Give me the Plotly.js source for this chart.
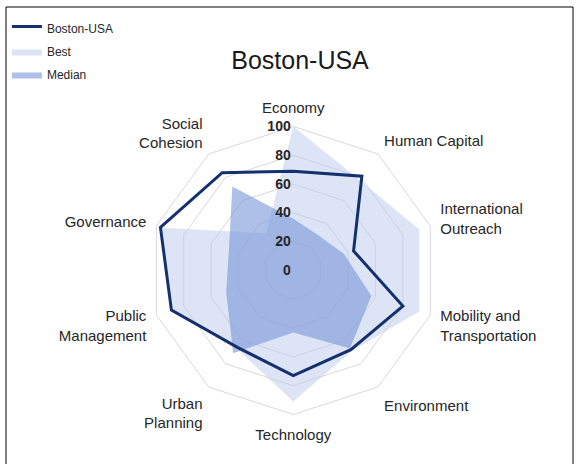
<!DOCTYPE html>
<html>
<head>
<meta charset="utf-8">
<script src="https://cdn.plot.ly/plotly-3.0.1.min.js"></script>
<style>
html,body{margin:0;padding:0;background:#fff;}
#chart{width:576px;height:464px;}
</style>
</head>
<body>
<div id="chart"></div>
<script>
// Categories (clockwise from top)
const categories = ['Economy','Human Capital','International Outreach','Mobility and Transportation','Environment','Technology','Urban Planning','Public Management','Governance','Social Cohesion'];
const axisLabels = ['Economy','Human Capital','International<br>Outreach','Mobility and<br>Transportation','Environment','Technology','Urban<br>Planning','Public<br>Management','Governance','Social<br>Cohesion'];
// Series values
const bostonValues = [69, 81, 44, 80, 68, 73, 66, 89, 97, 84];
const bestValues   = [100, 78, 92, 92, 69, 91, 67, 88, 96, 32];
const medianValues = [36, 30, 37, 57, 67, 43, 71, 49, 47, 72];
// Radial tick labels
const radialTicks = [0, 20, 40, 60, 80, 100];

function closed(arr){ return arr.concat([arr[0]]); }

const FONT = 'Liberation Sans, Arial, sans-serif';

const traces = [
  {
    type:'scatterpolar', name:'Best', legendrank:2, legendgroup:'b',
    r: closed(bestValues), theta: closed(categories),
    mode:'lines', fill:'toself',
    fillcolor:'rgba(185,201,235,0.5)', line:{width:0, color:'rgba(185,201,235,0.5)'},
    hoverinfo:'skip'
  },
  {
    type:'scatterpolar', name:'Median', legendrank:3, legendgroup:'c',
    r: closed(medianValues), theta: closed(categories),
    mode:'lines', fill:'toself',
    fillcolor:'rgba(120,150,215,0.6)', line:{width:0, color:'rgba(120,150,215,0.6)'},
    hoverinfo:'skip'
  },
  {
    type:'scatterpolar', name:'Boston-USA', legendrank:1, legendgroup:'a',
    r: closed(bostonValues), theta: closed(categories),
    mode:'lines', fill:'toself', fillcolor:'rgba(255,255,255,0)',
    line:{width:3, color:'#14306e'},
    hoverinfo:'skip'
  }
];

const R = 144, CX = 293.3, CY = 270.5, W = 576, H = 464;

const layout = {
  width: W, height: H,
  margin:{l:0, r:0, t:0, b:0},
  paper_bgcolor:'#ffffff',
  font:{family:FONT, color:'#262626'},
  title:{text:'Boston-USA', font:{family:FONT, size:25, color:'#1a1a1a'},
         x:300/W, xanchor:'center', y:1-60/H, yanchor:'middle', xref:'paper', yref:'paper'},
  showlegend:true,
  legend:{x:0.012, y:1-14/H, xanchor:'left', yanchor:'top', font:{family:FONT, size:12, color:'#262626'},
          itemwidth:30, tracegroupgap:4, bgcolor:'rgba(0,0,0,0)'},
  polar:{
    domain:{x:[(CX-R)/W, (CX+R)/W], y:[(H-CY-R)/H, (H-CY+R)/H]},
    gridshape:'linear',
    bgcolor:'rgba(0,0,0,0)',
    angularaxis:{
      type:'category', direction:'clockwise', rotation:90,
      tickmode:'array', tickvals:categories, ticktext:axisLabels,
      showgrid:false, showline:true, linecolor:'#d9d9d9', linewidth:1,
      ticks:'outside', ticklen:7, tickcolor:'rgba(0,0,0,0)',
      tickfont:{family:FONT, size:15, color:'#262626'}
    },
    radialaxis:{
      range:[0,100], tickmode:'array', tickvals:radialTicks, ticktext:radialTicks.map(String),
      angle:90, side:'counterclockwise', tickangle:90,
      showline:false, ticks:'',
      gridcolor:'#d9d9d9', gridwidth:1,
      tickfont:{family:FONT, size:14, color:'#262626', weight:'bold'}
    }
  },
  shapes:[
    {type:'rect', xref:'paper', yref:'paper', x0:6/W, x1:573/W, y0:-0.05, y1:1-7/H,
     line:{color:'#000000', width:1}, fillcolor:'rgba(0,0,0,0)', layer:'below'}
  ]
};

Plotly.newPlot('chart', traces, layout, {displayModeBar:false, staticPlot:true});
</script>
</body>
</html>
